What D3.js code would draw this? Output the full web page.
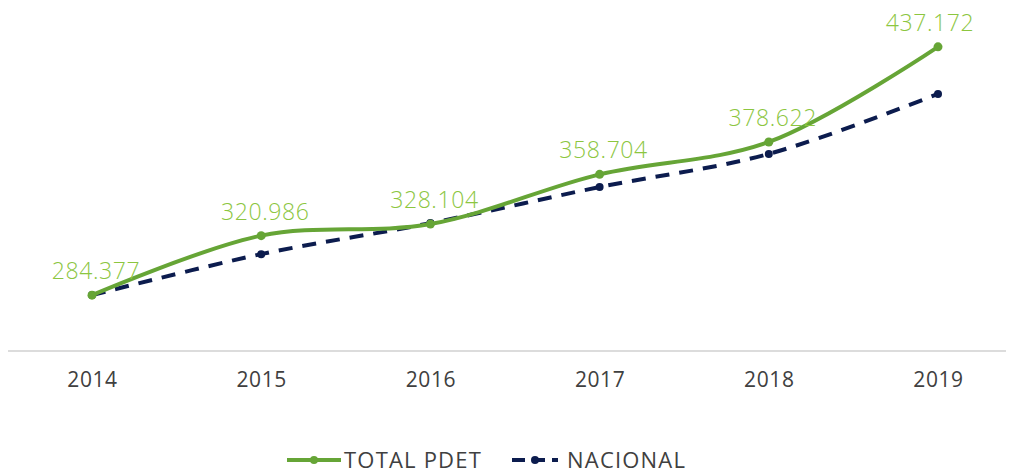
<!DOCTYPE html>
<html>
<head>
<meta charset="utf-8">
<script src="https://cdn.jsdelivr.net/npm/d3@7"></script>
<style>
  body { margin: 0; background: #fff; }
  text { font-family: "Open Sans", "Lato", sans-serif; }
</style>
</head>
<body>
<div id="chart"></div>
<script>
// data
var years = ["2014", "2015", "2016", "2017", "2018", "2019"];
var totalPdet = [284.377, 320.986, 328.104, 358.704, 378.622, 437.172];
var nacional = [284.4, 309.6, 328.7, 350.9, 371.3, 408.2];
var pdetLabels = ["284.377", "320.986", "328.104", "358.704", "378.622", "437.172"];

var svgWidth = 1010, svgHeight = 473;

var svg = d3.select("#chart").append("svg")
    .attr("width", svgWidth).attr("height", svgHeight);

// scales
var x = d3.scalePoint().domain(years).range([92, 938]);
var y = d3.scaleLinear().domain([250, 450]).range([351, 26]);

// baseline
svg.append("line")
    .attr("x1", 8).attr("x2", 1006)
    .attr("y1", y(250)).attr("y2", y(250))
    .attr("stroke", "#d0d0d0").attr("stroke-width", 1.5);

// x axis labels
var xAxis = d3.axisBottom(x).tickSize(0).tickPadding(21);
var gx = svg.append("g").attr("transform", "translate(0," + y(250) + ")").call(xAxis);
gx.select(".domain").remove();
gx.selectAll("text")
    .attr("font-size", 21).attr("fill", "#404040")
    .style("font-family", "'Open Sans', Lato, sans-serif")
    .attr("letter-spacing", 0.6);

var green = "#66a536", lblGreen = "#8cc63f", navy = "#0c1c4e";

// nacional line
var lineN = d3.line().x((d, i) => x(years[i])).y(d => y(d)).curve(d3.curveCatmullRom.alpha(0.5));
svg.append("path").datum(nacional)
    .attr("d", lineN).attr("fill", "none")
    .attr("stroke", navy).attr("stroke-width", 4)
    .attr("stroke-dasharray", "14,10");
svg.selectAll("circle.nac").data(nacional).enter().append("circle")
    .attr("class", "nac")
    .attr("cx", (d, i) => x(years[i])).attr("cy", d => y(d))
    .attr("r", 4).attr("fill", navy);

// total pdet line
var lineP = d3.line().x((d, i) => x(years[i])).y(d => y(d)).curve(d3.curveCatmullRom.alpha(0.5));
svg.append("path").datum(totalPdet)
    .attr("d", lineP).attr("fill", "none")
    .attr("stroke", green).attr("stroke-width", 4);
svg.selectAll("circle.pdet").data(totalPdet).enter().append("circle")
    .attr("class", "pdet")
    .attr("cx", (d, i) => x(years[i])).attr("cy", d => y(d))
    .attr("r", 4.5).attr("fill", green);

// value labels
svg.selectAll("text.lbl").data(totalPdet).enter().append("text")
    .attr("class", "lbl")
    .attr("x", (d, i) => x(years[i]) + (i == 5 ? -8 : 4))
    .attr("y", d => y(d) - 16)
    .attr("text-anchor", "middle")
    .attr("font-size", 23).attr("font-weight", 300)
    .attr("letter-spacing", 0.6)
    .attr("fill", lblGreen)
    .text((d, i) => pdetLabels[i]);

// legend
var leg = svg.append("g").attr("transform", "translate(0,460)");
leg.append("line").attr("x1", 287).attr("x2", 341).attr("y1", 0).attr("y2", 0)
    .attr("stroke", green).attr("stroke-width", 4);
leg.append("circle").attr("cx", 314).attr("cy", 0).attr("r", 4).attr("fill", green);
leg.append("text").attr("x", 344).attr("y", 8).attr("font-size", 22).attr("fill", "#404040")
    .attr("letter-spacing", 1.2)
    .text("TOTAL PDET");
leg.append("line").attr("x1", 512).attr("x2", 558).attr("y1", 0).attr("y2", 0)
    .attr("stroke", navy).attr("stroke-width", 4).attr("stroke-dasharray", "13,7");
leg.append("circle").attr("cx", 535).attr("cy", 0).attr("r", 4).attr("fill", navy);
leg.append("text").attr("x", 567).attr("y", 8).attr("font-size", 22).attr("fill", "#404040")
    .attr("letter-spacing", 1.2)
    .text("NACIONAL");
</script>
</body>
</html>
